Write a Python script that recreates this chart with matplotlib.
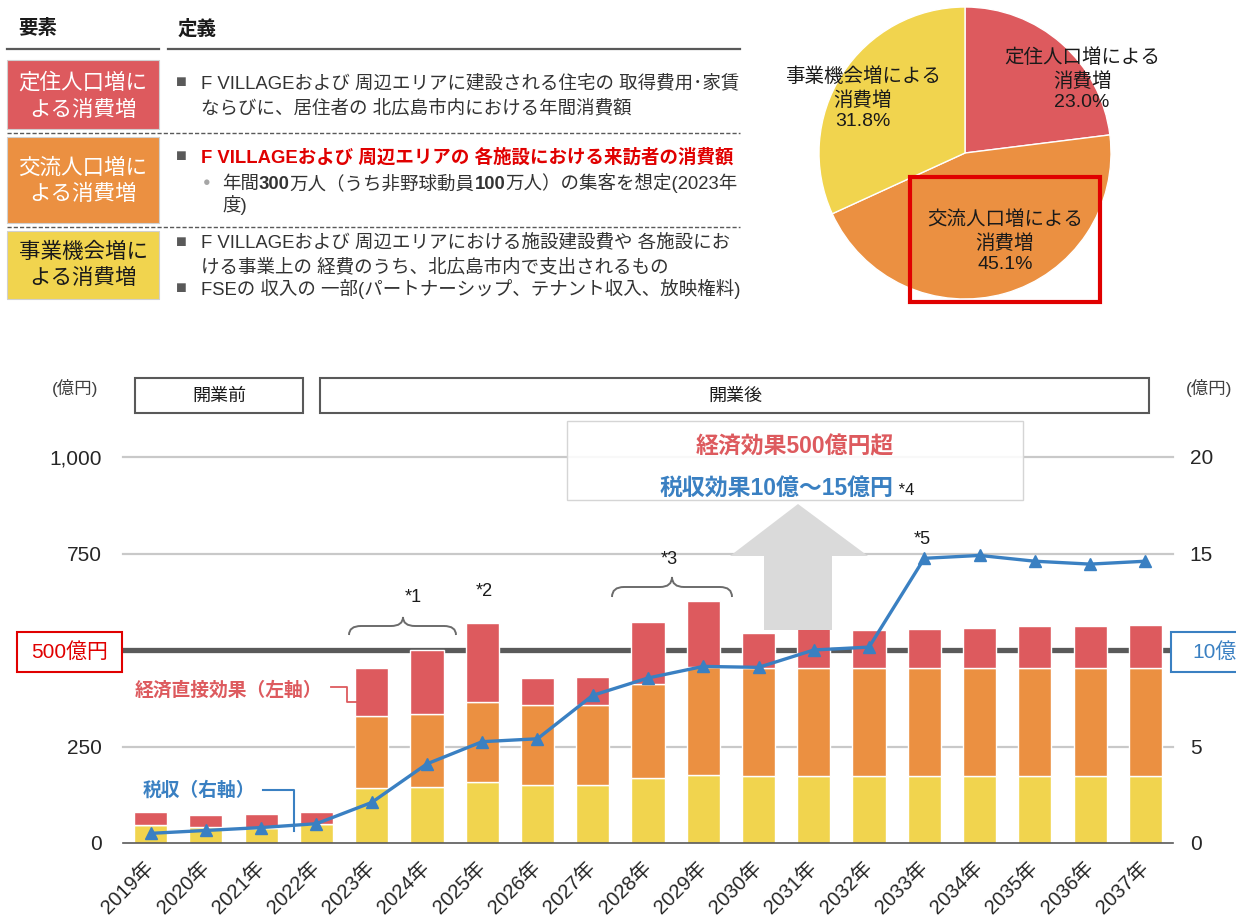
import numpy as np
import matplotlib
matplotlib.use("Agg")
import matplotlib.pyplot as plt
from matplotlib.patches import Rectangle, Polygon, PathPatch
from matplotlib.path import Path

plt.rcParams['font.family'] = ['Liberation Sans', 'Noto Sans CJK JP']

W, H = 1236, 924

# --- data ---
years = list(range(2019, 2038))
jigyo = [46, 42, 40, 49, 143, 145, 159, 150, 150, 169, 177, 173, 173, 173, 173, 173, 173, 173, 173]   # 事業機会増
koryu = [0, 0, 0, 0, 187, 189, 205, 208, 208, 242, 279, 280, 280, 280, 280, 280, 280, 280, 280]       # 交流人口増
teiju = [34, 30, 36, 32, 123, 167, 206, 70, 72, 161, 172, 91, 105, 99, 102, 104, 108, 109, 112]      # 定住人口増
zeishu = [0.5, 0.65, 0.8, 1.0, 2.1, 4.1, 5.25, 5.4, 7.65, 8.55, 9.15, 9.1, 10.0, 10.15,
          14.75, 14.9, 14.6, 14.45, 14.6]                                                       # 税収(右軸)

left_ticks = [0, 250, 750, 1000]
left_ticklabels = ['0', '250', '750', '1,000']
right_ticks = [0, 5, 15, 20]

pie_names = ['定住人口増による\n消費増', '交流人口増による\n消費増', '事業機会増による\n消費増']
pie_shares = [23.0, 45.1, 31.8]

RED = '#DD5A5E'
ORANGE = '#EB9041'
YELLOW = '#F1D44E'
BLUE = '#3A80C2'
TXT = '#333333'

fig = plt.figure(figsize=(W / 100, H / 100), dpi=100)

# --- bar + line chart ---
ax = fig.add_axes([123 / W, 1 - 843 / H, 1050 / W, 386 / H])
x = np.arange(len(years))
ax.set_xlim(-0.5, len(years) - 0.5)
ax.set_ylim(0, 1000)
for v in [250, 750, 1000]:
    ax.axhline(v, color='#c9c9c9', lw=1.6, zorder=0.5, clip_on=False)
ax.axhline(500, color='#5a5a5a', lw=3.8, zorder=0.6)

b1 = np.array(jigyo)
b2 = np.array(koryu)
b3 = np.array(teiju)
bw = 0.6
ax.bar(x, b1, bw, color=YELLOW, edgecolor='white', lw=1, zorder=2)
ax.bar(x, b2, bw, bottom=b1, color=ORANGE, edgecolor='white', lw=1, zorder=2)
ax.bar(x, b3, bw, bottom=b1 + b2, color=RED, edgecolor='white', lw=1, zorder=2)

for s in ['left', 'right', 'top']:
    ax.spines[s].set_visible(False)
ax.spines['bottom'].set_color('#595959')
ax.spines['bottom'].set_linewidth(1.2)
ax.set_yticks(left_ticks, left_ticklabels)
ax.tick_params(axis='y', length=0, pad=15, labelsize=15, labelcolor='#262626')
ax.set_xticks(x, [f'{y}年' for y in years], rotation=45, ha='right', va='center',
              rotation_mode='anchor')
ax.tick_params(axis='x', length=0, pad=16, labelsize=14.5, labelcolor='#262626')

ax2 = ax.twinx()
ax2.set_ylim(0, 20)
ax2.plot(x, zeishu, color=BLUE, lw=2.4, marker='^', ms=8, zorder=3)
ax2.set_yticks(right_ticks, [str(t) for t in right_ticks])
ax2.tick_params(axis='y', length=0, pad=12, labelsize=15, labelcolor='#262626')
for s in ax2.spines.values():
    s.set_visible(False)

# --- pie ---
pc, pr = (965, 153), 146
axp = fig.add_axes([(pc[0] - pr) / W, 1 - (pc[1] + pr) / H, 2 * pr / W, 2 * pr / H])
axp.pie(pie_shares, colors=[RED, ORANGE, YELLOW], startangle=90, counterclock=False,
        wedgeprops=dict(edgecolor='white', linewidth=1))
axp.set_xlim(-1, 1)
axp.set_ylim(-1, 1)

# --- overlay in pixel coordinates ---
bg = fig.add_axes([0, 0, 1, 1], zorder=5)
bg.set_xlim(0, W)
bg.set_ylim(H, 0)
bg.axis('off')
renderer = fig.canvas.get_renderer()


def rich(x0, y, parts):
    for s, w, c, size in parts:
        t = bg.text(x0, y, s, fontsize=size, fontweight=w, color=c, va='baseline', ha='left')
        x0 += t.get_window_extent(renderer=renderer).width


def box(x0, y0, x1, y1, ec, fc='white', lw=1.5):
    bg.add_patch(Rectangle((x0, y0), x1 - x0, y1 - y0, facecolor=fc, edgecolor=ec, lw=lw))


def brace(x0, x1, xm, ye, yh, yt, r=12):
    verts = [(x0, ye), (x0, yh), (x0 + r, yh), (xm - r, yh), (xm, yh), (xm, yt),
             (xm, yh), (xm + r, yh), (x1 - r, yh), (x1, yh), (x1, ye)]
    codes = [Path.MOVETO, Path.CURVE3, Path.CURVE3, Path.LINETO, Path.CURVE3, Path.CURVE3,
             Path.CURVE3, Path.CURVE3, Path.LINETO, Path.CURVE3, Path.CURVE3]
    bg.add_patch(PathPatch(Path(verts, codes), fill=False, ec='#6b6b6b', lw=1.4))


# top-left table
bg.text(18, 29, '要素', fontsize=14, fontweight='bold', color='#1a1a1a', va='center')
bg.text(178, 29, '定義', fontsize=14, fontweight='bold', color='#1a1a1a', va='center')
bg.plot([7, 159], [49, 49], color='#595959', lw=1.6)
bg.plot([168, 740], [49, 49], color='#595959', lw=1.6)
for yy in [133, 227]:
    bg.plot([7, 740], [yy, yy], color='#595959', lw=1, ls=(0, (3, 1.5)))

rows = [(RED, 60, 129, 'white', '定住人口増に', 'よる消費増', 83, 110),
        (ORANGE, 137, 223, 'white', '交流人口増に', 'よる消費増', 168, 195),
        (YELLOW, 231, 299, '#1a1a1a', '事業機会増に', 'よる消費増', 253, 278)]
for fc, y0, y1, tc, l1, l2, ty1, ty2 in rows:
    box(7, y0, 159, y1, ec='#d0d0d0', fc=fc, lw=0.8)
    bg.text(83, ty1, l1, fontsize=15.5, color=tc, ha='center', va='center')
    bg.text(83, ty2, l2, fontsize=15.5, color=tc, ha='center', va='center')


def sq(y):
    bg.text(176, y, '■', fontsize=13, color='#595959', va='center')


FS = 13.3
sq(83)
bg.text(201, 83, 'F VILLAGEおよび 周辺エリアに建設される住宅の 取得費用･家賃', fontsize=FS, color=TXT, va='center')
bg.text(201, 108, 'ならびに、居住者の 北広島市内における年間消費額', fontsize=FS, color=TXT, va='center')
sq(157)
bg.text(201, 157, 'F VILLAGEおよび 周辺エリアの 各施設における来訪者の消費額', fontsize=FS,
        fontweight='bold', color='#e00000', va='center')
bg.text(203, 183, '●', fontsize=9, color='#a6a6a6', va='center')
rich(222, 189, [('年間', 'normal', TXT, FS), ('300', 'bold', TXT, FS), ('万人（うち非野球動員', 'normal', TXT, FS),
                ('100', 'bold', TXT, FS), ('万人）の集客を想定(2023年', 'normal', TXT, FS)])
bg.text(222, 205, '度)', fontsize=FS, color=TXT, va='center')
sq(242)
bg.text(201, 242, 'F VILLAGEおよび 周辺エリアにおける施設建設費や 各施設にお', fontsize=FS, color=TXT, va='center')
bg.text(201, 267, 'ける事業上の 経費のうち、北広島市内で支出されるもの', fontsize=FS, color=TXT, va='center')
sq(289)
bg.text(201, 289, 'FSEの 収入の 一部(パートナーシップ、テナント収入、放映権料)', fontsize=FS, color=TXT, va='center')

# pie labels
pie_pos = [(1082, 80), (1005, 242), (863, 99)]
for name, share, (px, py) in zip(pie_names, pie_shares, pie_pos):
    bg.text(px, py, f'{name}\n{share:.1f}%', fontsize=14, color='#1a1a1a', ha='center', va='center',
            linespacing=1.3)
box(910, 177, 1100, 302, ec='#e00000', fc='none', lw=3)

# bar chart annotations
bg.text(75, 388, '(億円)', fontsize=12.5, color='#404040', ha='center', va='center')
bg.text(1209, 388, '(億円)', fontsize=12.5, color='#404040', ha='center', va='center')
box(135, 378, 303, 413, ec='#595959')
bg.text(219, 396, '開業前', fontsize=13, color='#1a1a1a', ha='center', va='center')
box(320, 378, 1149, 413, ec='#595959')
bg.text(735, 396, '開業後', fontsize=13, color='#1a1a1a', ha='center', va='center')

box(17, 632, 122, 672, ec='#e00000')
bg.text(70, 652, '500億円', fontsize=15, color='#e00000', ha='center', va='center')
box(1171, 632, 1260, 672, ec=BLUE)
bg.text(1192, 652, '10億', fontsize=15, color=BLUE, ha='left', va='center')

# arrow
bg.add_patch(Polygon([(764, 630), (832, 630), (832, 556), (868, 556), (798, 504), (730, 556), (764, 556)],
                     closed=True, facecolor='#dadada', edgecolor='none'))
# headline box
bg.add_patch(Rectangle((567, 421), 456, 79, facecolor=(1, 1, 1, 0.88), edgecolor='#d5d5d5', lw=1))
bg.text(795, 447, '経済効果500億円超', fontsize=16.5, fontweight='bold', color=RED, ha='center', va='center')
rich(660, 495, [('税収効果10億～15億円', 'bold', BLUE, 16.5), (' *4', 'normal', '#1a1a1a', 12)])

# series labels
bg.text(135, 691, '経済直接効果（左軸）', fontsize=13.5, fontweight='bold', color=RED, va='center')
bg.plot([331, 347, 347, 358], [687, 687, 702, 702], color=RED, lw=1.3)
bg.text(143, 790, '税収（右軸）', fontsize=13.5, fontweight='bold', color=BLUE, va='center')
bg.plot([263, 294, 294], [790, 790, 831], color=BLUE, lw=1.5)

# braces and notes
brace(349, 456, 403, 635, 626, 617)
bg.text(413, 597, '*1', fontsize=13, color='#1a1a1a', ha='center', va='center')
bg.text(484, 592, '*2', fontsize=13, color='#1a1a1a', ha='center', va='center')
brace(612, 732, 672, 597, 587, 577)
bg.text(669, 560, '*3', fontsize=13, color='#1a1a1a', ha='center', va='center')
bg.text(922, 540, '*5', fontsize=13, color='#1a1a1a', ha='center', va='center')

fig.savefig('out.png', dpi=100)
